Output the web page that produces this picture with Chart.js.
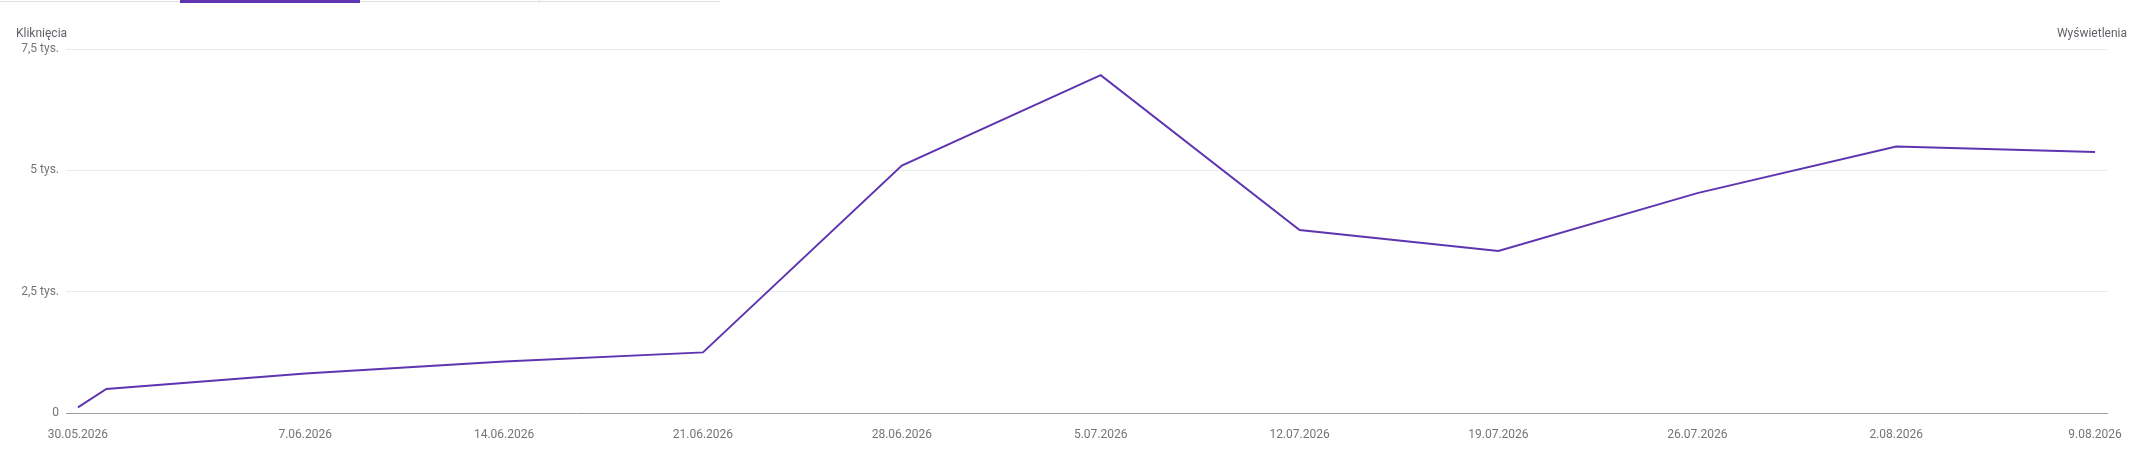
<!DOCTYPE html>
<html>
<head>
<meta charset="utf-8">
<script src="https://cdn.jsdelivr.net/npm/chart.js@4.4.1/dist/chart.umd.min.js"></script>
<style>
  html, body { margin: 0; padding: 0; background: #fff; }
  #wrap { position: relative; width: 2140px; height: 461px; overflow: hidden; font-family: Roboto, "Noto Sans", sans-serif; }
  #chart { position: absolute; left: 0; top: 0; }
  .tabline { position: absolute; left: 0; top: 1px; width: 720px; height: 1px; background: #e0e0e0; }
  .tabsel { position: absolute; left: 180px; top: 0; width: 180px; height: 3px; background: #5e35b1; }
  .tabdiv { position: absolute; left: 539px; top: 0; width: 1px; height: 3px; background: #e0e0e0; }
  .axtitle { position: absolute; top: 25px; font-size: 12px; line-height: 16px; color: #5f6368; white-space: nowrap; }
</style>
</head>
<body>
<div id="wrap">
  <canvas id="chart" width="2140" height="461"></canvas>
  <div class="tabline"></div>
  <div class="tabsel"></div>
  <div class="tabdiv"></div>
  <div class="axtitle" style="left:16px;">Kliknięcia</div>
  <div class="axtitle" style="right:13px;">Wyświetlenia</div>
</div>
<script>
// ---- data ----
const pointDates = ['2026-05-30','2026-05-31','2026-06-07','2026-06-14','2026-06-21','2026-06-28','2026-07-05','2026-07-12','2026-07-19','2026-07-26','2026-08-02','2026-08-09'];
const clicks = [115, 495, 816, 1063, 1249, 5100, 6960, 3770, 3340, 4530, 5490, 5380];
const tickDates = ['2026-05-30','2026-06-07','2026-06-14','2026-06-21','2026-06-28','2026-07-05','2026-07-12','2026-07-19','2026-07-26','2026-08-02','2026-08-09'];
const tickLabels = ['30.05.2026','7.06.2026','14.06.2026','21.06.2026','28.06.2026','5.07.2026','12.07.2026','19.07.2026','26.07.2026','2.08.2026','9.08.2026'];
const yTickValues = [0, 2500, 5000, 7500];
const yTickLabels = ['0', '2,5 tys.', '5 tys.', '7,5 tys.'];

const DAY = 86400000;
const origin = Date.parse(pointDates[0] + 'T00:00:00Z');
const dayOf = d => Math.round((Date.parse(d + 'T00:00:00Z') - origin) / DAY);
const tickDays = tickDates.map(dayOf);
const lastDay = tickDays[tickDays.length - 1];

const ctx = document.getElementById('chart').getContext('2d');
new Chart(ctx, {
  type: 'line',
  data: {
    datasets: [{
      label: 'Kliknięcia',
      data: pointDates.map((d, i) => ({ x: dayOf(d), y: clicks[i] })),
      borderColor: '#5e35b1',
      backgroundColor: '#5e35b1',
      borderWidth: 2,
      pointRadius: 0,
      pointHoverRadius: 0,
      tension: 0,
      fill: false
    }]
  },
  options: {
    responsive: false,
    animation: false,
    devicePixelRatio: 1,
    layout: { padding: { top: 49, right: 33, bottom: 0, left: 0 } },
    plugins: { legend: { display: false }, tooltip: { enabled: false } },
    scales: {
      x: {
        type: 'linear',
        min: -0.42,
        max: lastDay + 0.42,
        afterBuildTicks: s => { s.ticks = tickDays.map(v => ({ value: v })); },
        afterFit: s => { s.height = 48; },
        grid: { display: false, drawTicks: false },
        border: { display: true, color: '#9e9e9e', width: 1 },
        ticks: {
          autoSkip: false,
          maxRotation: 0,
          padding: 15,
          color: '#757575',
          font: { family: 'Roboto', size: 12 },
          callback: v => { const i = tickDays.indexOf(v); return i >= 0 ? tickLabels[i] : ''; }
        }
      },
      y: {
        type: 'linear',
        min: 0,
        max: 7500,
        afterBuildTicks: s => { s.ticks = yTickValues.map(v => ({ value: v })); },
        afterFit: s => { s.width = 66; },
        grid: {
          drawTicks: false,
          color: c => (c.tick && c.tick.value === 0) ? 'rgba(0,0,0,0)' : '#ebebeb',
          lineWidth: 1
        },
        border: { display: false },
        ticks: {
          padding: 7,
          color: '#757575',
          font: { family: 'Roboto', size: 12 },
          callback: v => { const i = yTickValues.indexOf(v); return i >= 0 ? yTickLabels[i] : ''; }
        }
      }
    }
  }
});
</script>
</body>
</html>
